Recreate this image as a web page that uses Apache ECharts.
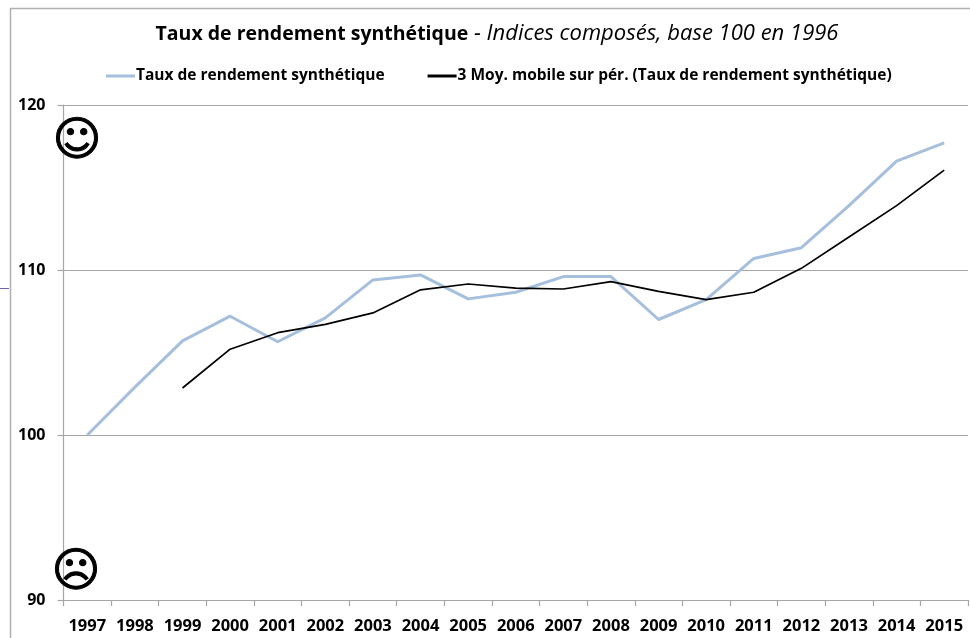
<!DOCTYPE html>
<html><head><meta charset="utf-8">
<style>html,body{margin:0;padding:0;background:#fff}#c{width:970px;height:638px}</style>
<script src="https://cdn.jsdelivr.net/npm/echarts@6/dist/echarts.min.js"></script>
</head><body><div id="c"></div>
<script>
const years=['1997','1998','1999','2000','2001','2002','2003','2004','2005','2006','2007','2008','2009','2010','2011','2012','2013','2014','2015'];
const taux=[100,102.9,105.7,107.2,105.65,107.1,109.4,109.7,108.25,108.65,109.6,109.6,107,108.2,110.7,111.35,113.9,116.6,117.7];
const moyenne=[null,null,102.85,105.2,106.2,106.7,107.4,108.8,109.15,108.9,108.85,109.3,108.7,108.2,108.65,110.1,112,113.9,116.05];
const nameA='Taux de rendement synthétique';
const nameB='3 Moy. mobile sur pér. (Taux de rendement synthétique)';
const font='"Open Sans", sans-serif';
const chart=echarts.init(document.getElementById('c'),null,{renderer:'canvas'});
chart.setOption({
 animation:false,backgroundColor:'#fff',
 title:{left:492,top:18,textAlign:'center',
  text:'{b|Taux de rendement synthétique}{i| - Indices composés, base 100 en 1996}',
  textStyle:{fontWeight:'normal',rich:{b:{fontFamily:font,fontWeight:700,fontSize:19.5,color:'#000'},i:{fontFamily:font,fontWeight:'normal',fontStyle:'italic',fontSize:22,color:'#000'}}}},
 legend:{left:101,top:63,itemGap:43,itemWidth:29,itemHeight:3,icon:'rect',
  textStyle:{fontFamily:font,fontWeight:700,fontSize:15.5,color:'#000',padding:[0,0,0,-4]},
  data:[nameA,nameB]},
 grid:{left:63.5,right:2,top:105,bottom:38},
 xAxis:{type:'category',data:years,boundaryGap:true,
  axisLine:{onZero:false,lineStyle:{color:'#a6a6a6',width:1.2}},
  axisTick:{show:true,length:6,lineStyle:{color:'#a6a6a6',width:1.2}},
  axisLabel:{interval:0,margin:18,fontFamily:font,fontWeight:700,fontSize:16.5,color:'#000'},
  splitLine:{show:false}},
 yAxis:{type:'value',min:90,max:120,interval:10,
  axisLine:{show:true,lineStyle:{color:'#a6a6a6',width:1.2}},
  axisTick:{show:true,length:6,lineStyle:{color:'#a6a6a6',width:1.2}},
  axisLabel:{margin:18,padding:[4,0,0,0],fontFamily:font,fontWeight:700,fontSize:16,color:'#000'},
  splitLine:{show:true,lineStyle:{color:'#a6a6a6',width:1.2}}},
 series:[
  {name:nameA,type:'line',data:taux,symbol:'none',lineStyle:{color:'#a5bfdd',width:3,join:'round'},itemStyle:{color:'#a5bfdd'}},
  {name:nameB,type:'line',data:moyenne,symbol:'none',lineStyle:{color:'#000',width:1.7},itemStyle:{color:'#000'}}
 ],
 graphic:[
  {type:'rect',silent:true,z:-1,shape:{x:10.5,y:8.5,width:970,height:640},style:{fill:'none',stroke:'#b0b0b0',lineWidth:1.5}},
  {type:'line',silent:true,shape:{x1:0,y1:288.5,x2:9,y2:288.5},style:{stroke:'#6f63b0',lineWidth:1}},
  {type:'text',silent:true,z:10,x:77,y:143,style:{text:'☺',font:'47px "DejaVu Sans"',fill:'#000',stroke:'#000',lineWidth:1,align:'center',verticalAlign:'middle'}},
  {type:'text',silent:true,z:10,x:76,y:574,style:{text:'☹',font:'47px "DejaVu Sans"',fill:'#000',stroke:'#000',lineWidth:1,align:'center',verticalAlign:'middle'}}
 ]
});
</script></body></html>
